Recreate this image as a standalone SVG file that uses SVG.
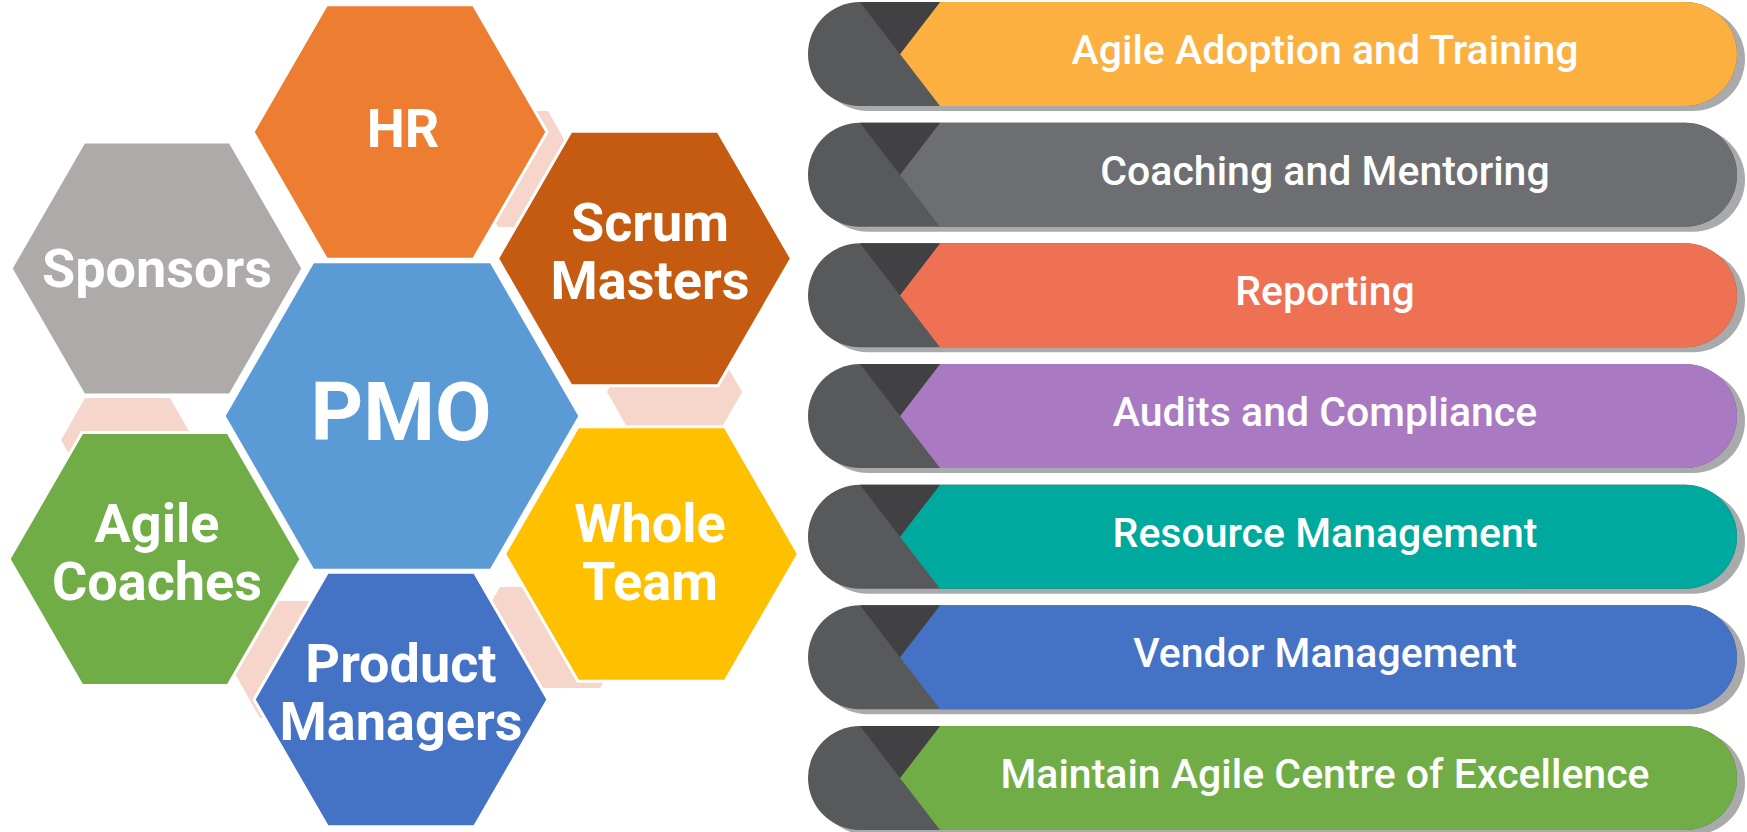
<svg xmlns="http://www.w3.org/2000/svg" xmlns:xlink="http://www.w3.org/1999/xlink" width="1747" height="832" viewBox="0 0 1747 832">
<style>
.hex{stroke:#ffffff;stroke-width:3;stroke-linejoin:miter}
.pink{fill:#F6D5CA}
.ht{font-family:Roboto,"Liberation Sans",Arial,sans-serif;font-weight:700;font-size:54px;fill:#ffffff;text-anchor:middle}
.pmo{font-size:82px}
.pt{font-family:Roboto,"Liberation Sans",Arial,sans-serif;font-weight:500;font-size:41px;fill:#ffffff;text-anchor:middle}
.cap{fill:#58595B}
.tri{fill:#414042}
.shd{fill:#A9AAAC}
</style>
<defs>
<path id="pill" d="M860,0 H1685 A52,52 0 0 1 1685,104 H860 A52,52 0 0 1 860,0 Z"/>
<path id="body" d="M940,0 H1685 A52,52 0 0 1 1685,104 H940 L900,52 Z"/>
<path id="tri" d="M860,0 H940 L900,52 Z"/>
</defs>
<rect width="1747" height="832" fill="#ffffff"/>
<g id="pink-shapes">
<polygon class="pink" points="465,169 498,111 548,111 581,169 548,227 498,227"/>
<polygon class="pink" points="61,440 85,398 170,398 194,440 170,482 85,482"/>
<polygon class="pink" points="607,392 631,350 718,350 742,392 718,434 631,434"/>
<polygon class="pink" points="227,659.5 260,601 310,601 343,659.5 310,718 260,718"/>
<polygon class="pink" points="471,637 500,587 600,587 629,637 600,688 500,688"/>
</g>
<g id="hr">
<polygon class="hex" fill="#ED7D31" points="253,132 326.5,4.7 473.5,4.7 547,132 473.5,259.3 326.5,259.3"/>
<text class="ht" x="403" y="147">HR</text>
</g>
<g id="sponsors">
<polygon class="hex" fill="#AEAAAA" points="11,268.5 84,142.1 230,142.1 303,268.5 230,394.9 84,394.9"/>
<text class="ht" x="157" y="287">Sponsors</text>
</g>
<g id="scrum-masters">
<polygon class="hex" fill="#C55A11" points="497.5,258.5 571,131.2 718,131.2 791.5,258.5 718,385.8 571,385.8"/>
<text class="ht" x="650" y="241">Scrum</text>
<text class="ht" x="650" y="299">Masters</text>
</g>
<g id="agile-coaches">
<polygon class="hex" fill="#70AD47" points="9,559 82,432.6 228,432.6 301,559 228,685.4 82,685.4"/>
<text class="ht" x="157" y="542">Agile</text>
<text class="ht" x="157" y="600">Coaches</text>
</g>
<g id="whole-team">
<polygon class="hex" fill="#FFC000" points="504.5,554 578,426.7 725,426.7 798.5,554 725,681.3 578,681.3"/>
<text class="ht" x="650" y="542">Whole</text>
<text class="ht" x="650" y="600">Team</text>
</g>
<g id="product-managers">
<polygon class="hex" fill="#4472C4" points="254,699.5 327.5,572.2 474.5,572.2 548,699.5 474.5,826.8 327.5,826.8"/>
<text class="ht" x="401" y="682">Product</text>
<text class="ht" x="401" y="740">Managers</text>
</g>
<g id="pmo">
<polygon class="hex" fill="#5B9BD5" points="224,416 313,261.8 491,261.8 580,416 491,570.2 313,570.2"/>
<text class="ht pmo" x="401" y="440">PMO</text>
</g>
<g id="connectors"></g>
<g id="pill-1" transform="translate(0,2)">
<use xlink:href="#pill" class="shd" x="8" y="5"/>
<use xlink:href="#pill" class="cap"/>
<use xlink:href="#body" fill="#FBB040"/>
<use xlink:href="#tri" class="tri"/>
<text class="pt" x="1325" y="62">Agile Adoption and Training</text>
</g>
<g id="pill-2" transform="translate(0,122.67)">
<use xlink:href="#pill" class="shd" x="8" y="5"/>
<use xlink:href="#pill" class="cap"/>
<use xlink:href="#body" fill="#6D6E71"/>
<use xlink:href="#tri" class="tri"/>
<text class="pt" x="1325" y="62">Coaching and Mentoring</text>
</g>
<g id="pill-3" transform="translate(0,243.33)">
<use xlink:href="#pill" class="shd" x="8" y="5"/>
<use xlink:href="#pill" class="cap"/>
<use xlink:href="#body" fill="#ED7152"/>
<use xlink:href="#tri" class="tri"/>
<text class="pt" x="1325" y="62">Reporting</text>
</g>
<g id="pill-4" transform="translate(0,364)">
<use xlink:href="#pill" class="shd" x="8" y="5"/>
<use xlink:href="#pill" class="cap"/>
<use xlink:href="#body" fill="#A97AC1"/>
<use xlink:href="#tri" class="tri"/>
<text class="pt" x="1325" y="62">Audits and Compliance</text>
</g>
<g id="pill-5" transform="translate(0,484.67)">
<use xlink:href="#pill" class="shd" x="8" y="5"/>
<use xlink:href="#pill" class="cap"/>
<use xlink:href="#body" fill="#00A99D"/>
<use xlink:href="#tri" class="tri"/>
<text class="pt" x="1325" y="62">Resource Management</text>
</g>
<g id="pill-6" transform="translate(0,605.33)">
<use xlink:href="#pill" class="shd" x="8" y="5"/>
<use xlink:href="#pill" class="cap"/>
<use xlink:href="#body" fill="#4472C4"/>
<use xlink:href="#tri" class="tri"/>
<text class="pt" x="1325" y="62">Vendor Management</text>
</g>
<g id="pill-7" transform="translate(0,726)">
<use xlink:href="#pill" class="shd" x="8" y="5"/>
<use xlink:href="#pill" class="cap"/>
<use xlink:href="#body" fill="#70AD47"/>
<use xlink:href="#tri" class="tri"/>
<text class="pt" x="1325" y="62">Maintain Agile Centre of Excellence</text>
</g>
</svg>
